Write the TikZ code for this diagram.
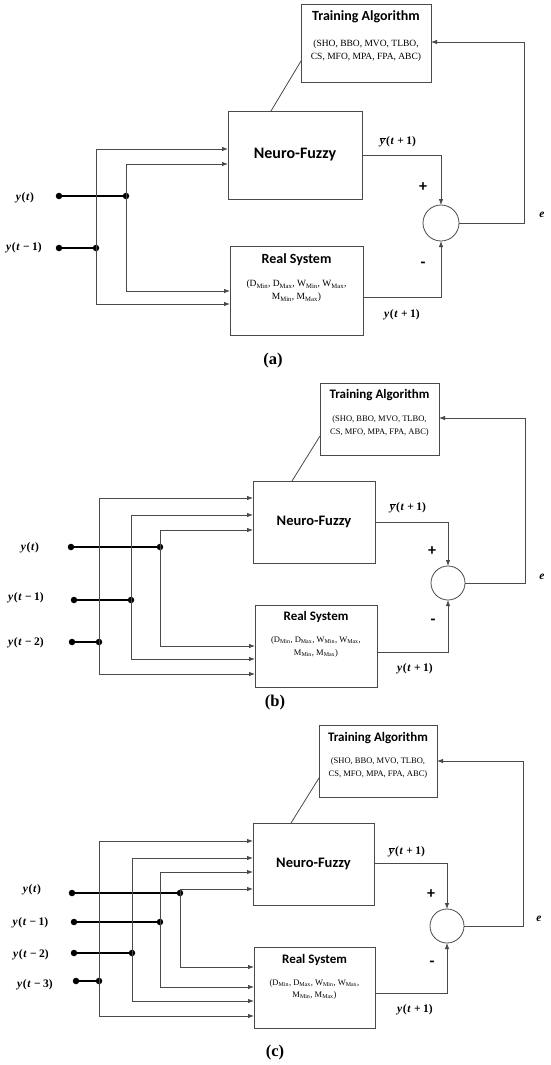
\documentclass[tikz,border=0pt]{standalone}
\usepackage{fontspec}
\setmainfont{Liberation Serif}
\newfontfamily\calb{Carlito}
\usetikzlibrary{arrows.meta,calc}
\definecolor{linegray}{HTML}{4A4A4A}
\definecolor{boxgray}{HTML}{4A4A4A}
\tikzset{
  wire/.style={draw=linegray, line width=0.8pt},
  arr/.style={wire, -{Latex[length=6pt,width=4.5pt]}},
  blk/.style={draw=boxgray, line width=0.8pt, inner sep=0pt, outer sep=0pt},
  sumc/.style={circle, draw=linegray, line width=0.8pt, inner sep=0pt, outer sep=0pt},
  dotn/.style={circle, fill=black, inner sep=0pt, minimum size=6.5pt},
  feed/.style={draw=black, line width=1.1pt},
  ttlA/.style={font=\calb\bfseries\fontsize{14}{16}\selectfont},
  ttlB/.style={font=\calb\bfseries\fontsize{13}{15}\selectfont},
  nfA/.style={font=\calb\bfseries\fontsize{16}{18}\selectfont},
  nfB/.style={font=\calb\bfseries\fontsize{14.5}{16}\selectfont},
  parA/.style={font=\fontsize{9.5}{13}\selectfont, align=center, inner sep=0pt},
  parB/.style={font=\fontsize{8.5}{12.5}\selectfont, align=center, inner sep=0pt},
  lbl/.style={font=\bfseries\fontsize{11.5}{13}\selectfont, inner sep=0pt},
  sgn/.style={font=\calb\bfseries\fontsize{16}{18}\selectfont, inner sep=0pt},
  captxt/.style={font=\bfseries\fontsize{16.5}{18}\selectfont, inner sep=0pt}
}
\newcommand{\algtext}{(SHO, BBO, MVO, TLBO,\\CS, MFO, MPA, FPA, ABC)}
\newcommand{\systext}{(D\textsubscript{Min}, D\textsubscript{Max}, W\textsubscript{Min}, W\textsubscript{Max},\\M\textsubscript{Min}, M\textsubscript{Max})}
\newcommand{\vy}{\textit{y}\kern0.6pt}
\newcommand{\vt}{\kern0.6pt\textit{t}\kern0.6pt}
\newcommand{\opsp}{\hspace{2.6pt}}
\newcommand{\ybar}{$\overline{\hbox{\bfseries\itshape y\kern0.5pt}}$\kern0.6pt(\vt\opsp+\opsp1)}
\begin{document}
\begin{tikzpicture}[x=1pt,y=-1pt]
\useasboundingbox[fill=white] (0,0) rectangle (550,1065);

% ================= Panel (a) =================
\node[blk, minimum width=130pt, minimum height=78pt] (aTA) at (366,43) {};
\node[ttlA] (aTAt) at (366,17) {Training Algorithm};
\node[parA] (aTAp) at (366,51) {\algtext};
\node[blk, minimum width=134pt, minimum height=88pt] (aNF) at (295,155) {};
\node[nfA] (aNFt) at (295,155) {Neuro-Fuzzy};
\node[blk, minimum width=133pt, minimum height=89pt] (aRS) at (296.5,290.5) {};
\node[ttlA] (aRSt) at (296.5,260) {Real System};
\node[parA] (aRSp) at (296.5,291) {\systext};
\node[sumc, minimum size=36pt] (aS) at (441,223) {};

\draw[wire] (aTA.west |- 0,61) -- (aNF.north -| 271,0);
\draw[arr] (aNF.east |- 0,155) -| (aS.north);
\draw[arr] (aRS.east |- 0,297) -| (aS.south);
\draw[arr] (aS.east) -| (524,42) -- (aTA.east |- 0,42);

\node[lbl] (aLyb) at (398,142) {\ybar};
\node[lbl] (aLy1) at (402,315) {\vy(\vt\opsp+\opsp1)};
\node[sgn] (aPlus) at (423,187) {+};
\node[sgn] (aMinus) at (423,265) {-};
\node[lbl] (aLe) at (542,215) {\textit{e}};
\node[captxt] (aCap) at (273,361) {(a)};

\node[dotn] (aD1) at (59,196) {};
\node[dotn] (aJ1) at (126,196) {};
\node[dotn] (aD2) at (59,248) {};
\node[dotn] (aJ2) at (96,248) {};
\node[lbl] (aL1) at (25,198) {\vy(\vt)};
\node[lbl] (aL2) at (24,248) {\vy(\vt\opsp−\opsp1)};
\draw[feed] (aD1) -- (aJ1);
\draw[feed] (aD2) -- (aJ2);
\draw[arr] (aJ1.center) |- (aNF.west |- 0,164);
\draw[arr] (aJ1.center) |- (aRS.west |- 0,291);
\draw[arr] (aJ2.center) |- (aNF.west |- 0,149);
\draw[arr] (aJ2.center) |- (aRS.west |- 0,304);

% ================= Panel (b) =================
\node[blk, minimum width=119pt, minimum height=72pt] (bTA) at (379.5,419) {};
\node[ttlB] (bTAt) at (379.5,395) {Training Algorithm};
\node[parB] (bTAp) at (379.5,426) {\algtext};
\node[blk, minimum width=122pt, minimum height=82pt] (bNF) at (314,522) {};
\node[nfB] (bNFt) at (314,522) {Neuro-Fuzzy};
\node[blk, minimum width=122pt, minimum height=82pt] (bRS) at (316,646) {};
\node[ttlB] (bRSt) at (316,617) {Real System};
\node[parB] (bRSp) at (316,647) {\systext};
\node[sumc, minimum size=34pt] (bS) at (448,583) {};

\draw[wire] (bTA.west |- 0,436) -- (bNF.north -| 292,0);
\draw[arr] (bNF.east |- 0,522) -| (bS.north);
\draw[arr] (bRS.east |- 0,652) -| (bS.south);
\draw[arr] (bS.east) -| (525,418) -- (bTA.east |- 0,418);

\node[lbl] (bLyb) at (408,508) {\ybar};
\node[lbl] (bLy1) at (415,669) {\vy(\vt\opsp+\opsp1)};
\node[sgn] (bPlus) at (432,551) {+};
\node[sgn] (bMinus) at (433,622) {-};
\node[lbl] (bLe) at (542,577) {\textit{e}};
\node[captxt] (bCap) at (275,703) {(b)};

\node[dotn] (bD1) at (71,547) {};
\node[dotn] (bJ1) at (160,547) {};
\node[dotn] (bD2) at (74,600) {};
\node[dotn] (bJ2) at (131,600) {};
\node[dotn] (bD3) at (72,642) {};
\node[dotn] (bJ3) at (99,642) {};
\node[lbl] (bL1) at (30,548) {\vy(\vt)};
\node[lbl] (bL2) at (26,598) {\vy(\vt\opsp−\opsp1)};
\node[lbl] (bL3) at (26,643) {\vy(\vt\opsp−\opsp2)};
\draw[feed] (bD1) -- (bJ1);
\draw[feed] (bD2) -- (bJ2);
\draw[feed] (bD3) -- (bJ3);
\draw[arr] (bJ1.center) |- (bNF.west |- 0,530);
\draw[arr] (bJ1.center) |- (bRS.west |- 0,646);
\draw[arr] (bJ2.center) |- (bNF.west |- 0,515);
\draw[arr] (bJ2.center) |- (bRS.west |- 0,659);
\draw[arr] (bJ3.center) |- (bNF.west |- 0,498);
\draw[arr] (bJ3.center) |- (bRS.west |- 0,674);

% ================= Panel (c) =================
\node[blk, minimum width=118pt, minimum height=72pt] (cTA) at (378,761) {};
\node[ttlB] (cTAt) at (378,738) {Training Algorithm};
\node[parB] (cTAp) at (378,768) {\algtext};
\node[blk, minimum width=121pt, minimum height=82pt] (cNF) at (313.5,864) {};
\node[nfB] (cNFt) at (313.5,864) {Neuro-Fuzzy};
\node[blk, minimum width=121pt, minimum height=81pt] (cRS) at (314.5,987.5) {};
\node[ttlB] (cRSt) at (314.5,960) {Real System};
\node[parB] (cRSp) at (314.5,989.5) {\systext};
\node[sumc, minimum size=34pt] (cS) at (447,926) {};

\draw[wire] (cTA.west |- 0,778) -- (cNF.north -| 291,0);
\draw[arr] (cNF.east |- 0,863) -| (cS.north);
\draw[arr] (cRS.east |- 0,993) -| (cS.south);
\draw[arr] (cS.east) -| (523,761) -- (cTA.east |- 0,761);

\node[lbl] (cLyb) at (407,852) {\ybar};
\node[lbl] (cLy1) at (415,1010) {\vy(\vt\opsp+\opsp1)};
\node[sgn] (cPlus) at (431,894) {+};
\node[sgn] (cMinus) at (432,964) {-};
\node[lbl] (cLe) at (539,919) {\textit{e}};
\node[captxt] (cCap) at (275,1053) {(c)};

\node[dotn] (cD1) at (72,893) {};
\node[dotn] (cJ1) at (180,893) {};
\node[dotn] (cD2) at (74,922) {};
\node[dotn] (cJ2) at (160,922) {};
\node[dotn] (cD3) at (74,953) {};
\node[dotn] (cJ3) at (132,953) {};
\node[dotn] (cD4) at (76,981) {};
\node[dotn] (cJ4) at (99,981) {};
\node[lbl] (cL1) at (32,890) {\vy(\vt)};
\node[lbl] (cL2) at (30.5,923) {\vy(\vt\opsp−\opsp1)};
\node[lbl] (cL3) at (31,955) {\vy(\vt\opsp−\opsp2)};
\node[lbl] (cL4) at (35,985) {\vy(\vt\opsp−\opsp3)};
\draw[feed] (cD1) -- (cJ1);
\draw[feed] (cD2) -- (cJ2);
\draw[feed] (cD3) -- (cJ3);
\draw[feed] (cD4) -- (cJ4);
\draw[arr] (cJ1.center) |- (cNF.west |- 0,889);
\draw[arr] (cJ1.center) |- (cRS.west |- 0,967);
\draw[arr] (cJ2.center) |- (cNF.west |- 0,872);
\draw[arr] (cJ2.center) |- (cRS.west |- 0,987);
\draw[arr] (cJ3.center) |- (cNF.west |- 0,858);
\draw[arr] (cJ3.center) |- (cRS.west |- 0,1001);
\draw[arr] (cJ4.center) |- (cNF.west |- 0,841);
\draw[arr] (cJ4.center) |- (cRS.west |- 0,1016);
\end{tikzpicture}
\end{document}
